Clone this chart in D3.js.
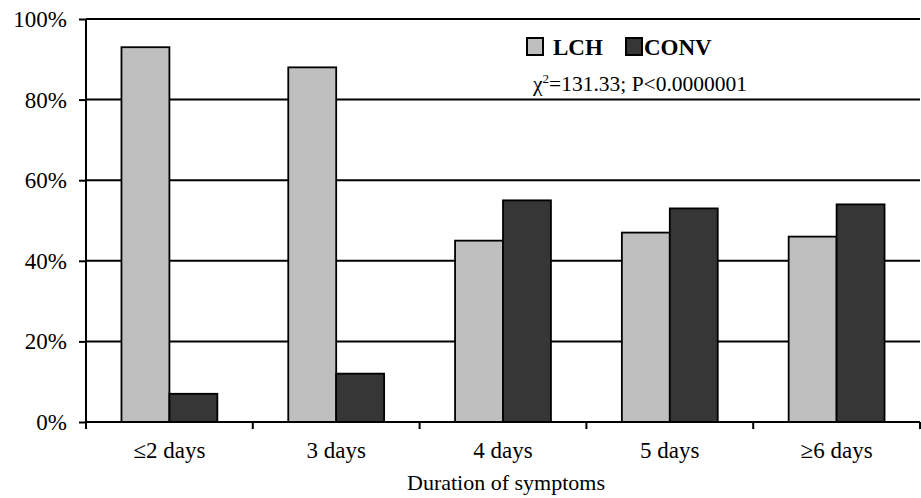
<!DOCTYPE html>
<html>
<head>
<meta charset="utf-8">
<script src="https://cdn.jsdelivr.net/npm/d3@7"></script>
<style>
  html, body { margin: 0; padding: 0; background: #fff; }
  svg { display: block; }
</style>
</head>
<body>
<svg id="chart" width="921" height="498"></svg>
<script>
const categories = ["\u22642 days", "3 days", "4 days", "5 days", "\u22656 days"];
const seriesNames = ["LCH", "CONV"];
const lchValues = [93, 88, 45, 47, 46];
const convValues = [7, 12, 55, 53, 54];
const yTicks = [0, 20, 40, 60, 80, 100];
const seriesColors = ["#bfbfbf", "#363636"];
const xTitle = "Duration of symptoms";
const statText = "=131.33; P<0.0000001";

const FONT = "Liberation Serif";
const svg = d3.select("#chart");
const mLeft = 86, mRight = 920, mTop = 19, mBottom = 422;

const x = d3.scaleBand().domain(categories).range([mLeft, mRight]).paddingInner(0).paddingOuter(0);
const x1 = d3.scaleBand().domain(seriesNames).range([0, x.bandwidth()]).paddingInner(0).paddingOuter(0.74);
const y = d3.scaleLinear().domain([0, 100]).range([mBottom, mTop]);

// gridlines
svg.append("g").selectAll("line").data(yTicks.filter(d => d > 0)).join("line")
  .attr("x1", mLeft).attr("x2", mRight)
  .attr("y1", d => y(d)).attr("y2", d => y(d))
  .attr("stroke", "#000").attr("stroke-width", 2);

// bars
const data = categories.map((c, i) => ({ cat: c, vals: [lchValues[i], convValues[i]] }));
const groups = svg.append("g").selectAll("g").data(data).join("g")
  .attr("transform", d => `translate(${x(d.cat)},0)`);
groups.selectAll("rect").data(d => d.vals.map((v, j) => ({ s: seriesNames[j], v, j }))).join("rect")
  .attr("x", d => x1(d.s))
  .attr("width", x1.bandwidth())
  .attr("y", d => y(d.v))
  .attr("height", d => y(0) - y(d.v))
  .attr("fill", d => seriesColors[d.j])
  .attr("stroke", "#000").attr("stroke-width", 1.8);

// y axis
const yAxis = d3.axisLeft(y).tickValues(yTicks).tickFormat(d => d + "%").tickSize(7).tickPadding(12);
const gy = svg.append("g").attr("transform", `translate(${mLeft},0)`).call(yAxis);
gy.select(".domain").remove();
gy.selectAll(".tick line").attr("stroke", "#000").attr("stroke-width", 2);
gy.selectAll(".tick text").style("font-size", "23px").style("font-family", FONT).attr("fill", "#000").attr("dy", "0.33em");
svg.append("line").attr("x1", mLeft).attr("x2", mLeft).attr("y1", mTop).attr("y2", mBottom + 7)
  .attr("stroke", "#000").attr("stroke-width", 2);

// x axis
const xAxis = d3.axisBottom(x).tickSize(0).tickPadding(20);
const gx = svg.append("g").attr("transform", `translate(0,${mBottom})`).call(xAxis);
gx.select(".domain").remove();
gx.selectAll(".tick text").style("font-size", "23px").style("font-family", FONT).attr("fill", "#000");
svg.append("line").attr("x1", mLeft).attr("x2", mRight).attr("y1", mBottom).attr("y2", mBottom)
  .attr("stroke", "#000").attr("stroke-width", 2);
const boundaries = categories.map(c => x(c) + x.bandwidth());
svg.append("g").selectAll("line").data(boundaries).join("line")
  .attr("x1", d => d).attr("x2", d => d).attr("y1", mBottom).attr("y2", mBottom + 7)
  .attr("stroke", "#000").attr("stroke-width", 2);

svg.append("text").attr("x", 506).attr("y", 490)
  .attr("text-anchor", "middle").style("font-size", "22px").style("font-family", FONT).text(xTitle);

// legend
const legX = [527, 626];
const legTextX = [553, 644];
const leg = svg.append("g");
seriesNames.forEach((s, i) => {
  leg.append("rect").attr("x", legX[i]).attr("y", 38).attr("width", 16).attr("height", 17)
    .attr("fill", seriesColors[i]).attr("stroke", "#000").attr("stroke-width", 2);
  leg.append("text").attr("x", legTextX[i]).attr("y", 55).style("font-size", "23px")
    .style("font-family", FONT).style("font-weight", "bold").text(s);
});
const st = svg.append("text").attr("x", 533).attr("y", 91).style("font-size", "21.5px").style("font-family", FONT);
st.append("tspan").text("\u03c7");
st.append("tspan").style("font-size", "13px").attr("dy", -8).text("2");
st.append("tspan").attr("dy", 8).text(statText);
</script>
</body>
</html>
